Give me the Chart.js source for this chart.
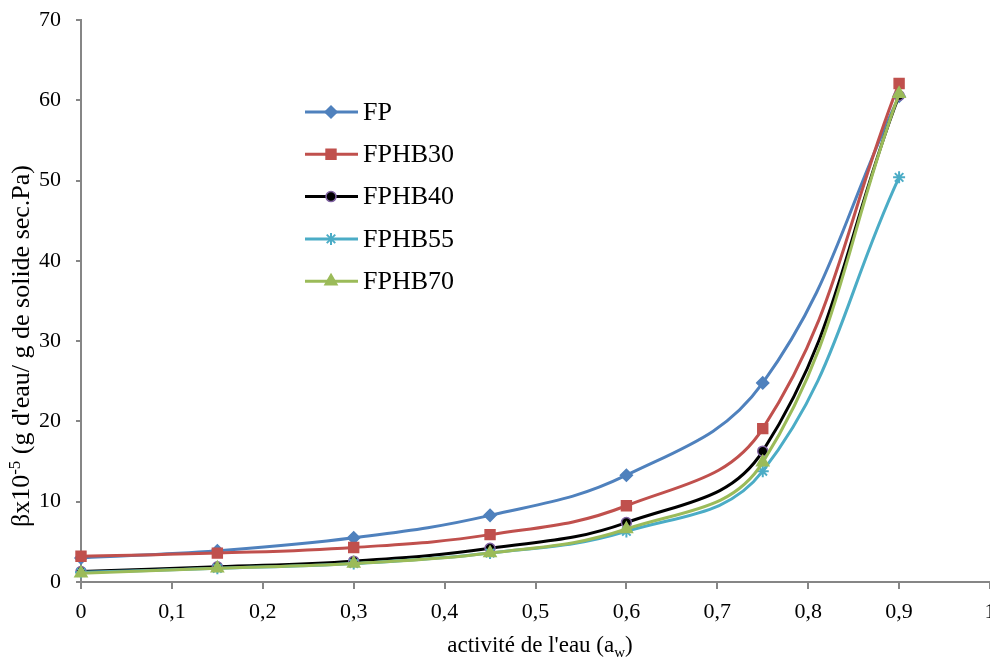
<!DOCTYPE html>
<html>
<head>
<meta charset="utf-8">
<script src="https://cdn.jsdelivr.net/npm/chart.js@4"></script>
<style>
    html, body { margin: 0; padding: 0; overflow: hidden; background: #fff; }
    #wrap { width: 990px; height: 659px; position: relative; }
</style>
</head>
<body>
<div id="wrap"><canvas id="c"></canvas></div>
<script>
// valeurs
const activite = [0, 0.15, 0.3, 0.45, 0.6, 0.75, 0.9];
const fp     = [3.0, 3.9, 5.5, 8.3, 13.3, 24.8, 60.5];
const fphb30 = [3.2, 3.6, 4.3, 5.9, 9.5, 19.1, 62.1];
const fphb40 = [1.3, 1.9, 2.6, 4.2, 7.4, 16.3, 60.6];
const fphb55 = [1.2, 1.7, 2.3, 3.6, 6.3, 13.8, 50.4];
const fphb70 = [1.1, 1.7, 2.3, 3.6, 6.6, 14.9, 60.8];
const seriesNames = ['FP', 'FPHB30', 'FPHB40', 'FPHB55', 'FPHB70'];

const FONT = '"Liberation Serif", "Times New Roman", serif';

function pts(arr) {
    return arr.map((v, i) => ({ x: activite[i], y: v }));
}

function makeSet(name, values, color, style, radius, fill, border, order) {
    return {
        label: name,
        data: pts(values),
        borderColor: color,
        borderWidth: 3,
        tension: 0.4,
        pointStyle: style,
        pointRadius: radius,
        pointBackgroundColor: fill,
        pointBorderColor: border,
        pointBorderWidth: style === 'star' ? 2 : 1.5,
        order: order,
        clip: false,
    };
}

const datasets = [
    makeSet(seriesNames[0], fp, '#4F81BD', 'rectRot', 6, '#4F81BD', '#4F81BD', 5),
    makeSet(seriesNames[1], fphb30, '#C0504D', 'rect', 7, '#C0504D', '#C0504D', 4),
    makeSet(seriesNames[2], fphb40, '#000000', 'circle', 5, '#000000', '#8064A2', 3),
    makeSet(seriesNames[3], fphb55, '#4BACC6', 'star', 6, '#4BACC6', '#4BACC6', 2),
    makeSet(seriesNames[4], fphb70, '#9BBB59', 'triangle', 7, '#9BBB59', '#9BBB59', 1),
];

// titres d'axes et légende dessinés à la main (indices, position dans la zone)
const extras = {
    id: 'extras',
    afterDraw(chart) {
        const ctx = chart.ctx;
        ctx.save();
        ctx.fillStyle = '#000';
        ctx.textBaseline = 'alphabetic';

        // titre axe x
        let big = '23px ' + FONT, small = '15px ' + FONT;
        ctx.font = big;
        const t1 = "activité de l'eau (a", t3 = ')';
        const w1 = ctx.measureText(t1).width, w3 = ctx.measureText(t3).width;
        ctx.font = small;
        const w2 = ctx.measureText('w').width;
        let x = 540 - (w1 + w2 + w3) / 2;
        const yb = 652;
        ctx.font = big; ctx.fillText(t1, x, yb); x += w1;
        ctx.font = small; ctx.fillText('w', x, yb + 5); x += w2;
        ctx.font = big; ctx.fillText(t3, x, yb);

        // titre axe y
        big = '26px ' + FONT; small = '17px ' + FONT;
        ctx.save();
        ctx.translate(29, 346);
        ctx.rotate(-Math.PI / 2);
        const a = 'βx10', b = '-5', c = " (g d'eau/ g de solide sec.Pa)";
        ctx.font = big;
        const wa = ctx.measureText(a).width, wc = ctx.measureText(c).width;
        ctx.font = small;
        const wb = ctx.measureText(b).width;
        let p = -(wa + wb + wc) / 2;
        ctx.font = big; ctx.fillText(a, p, 0); p += wa;
        ctx.font = small; ctx.fillText(b, p, -9); p += wb;
        ctx.font = big; ctx.fillText(c, p, 0);
        ctx.restore();

        // légende
        chart.data.datasets.forEach((ds, i) => {
            const ly = 112 + i * 42.3;
            ctx.strokeStyle = ds.borderColor;
            ctx.lineWidth = 3;
            ctx.beginPath();
            ctx.moveTo(305, ly);
            ctx.lineTo(358, ly);
            ctx.stroke();
            ctx.fillStyle = ds.pointBackgroundColor;
            ctx.strokeStyle = ds.pointBorderColor;
            ctx.lineWidth = ds.pointBorderWidth;
            Chart.helpers.drawPoint(ctx, {
                pointStyle: ds.pointStyle,
                radius: ds.pointRadius,
                rotation: 0,
                borderWidth: ds.pointBorderWidth,
            }, 331, ly);
            ctx.fillStyle = '#000';
            ctx.font = '26px ' + FONT;
            ctx.textBaseline = 'middle';
            ctx.fillText(ds.label, 363, ly + 1);
        });
        ctx.restore();
    }
};

function fmt(v) {
    if (v === 0) return '0';
    if (v === 1) return '1';
    return v.toFixed(1).replace('.', ',');
}

new Chart(document.getElementById('c'), {
    type: 'line',
    data: { datasets: datasets },
    options: {
        responsive: true,
        maintainAspectRatio: false,
        animation: false,
        layout: { autoPadding: false, padding: { top: 20, left: 0, right: 0, bottom: 0 } },
        plugins: {
            legend: { display: false },
            tooltip: { enabled: false },
        },
        scales: {
            x: {
                type: 'linear',
                min: 0,
                max: 1,
                afterFit(scale) {
                    scale.height = 77;
                    scale.paddingLeft = 0;
                    scale.paddingRight = 0;
                },
                border: { color: '#868686', width: 2 },
                grid: { drawOnChartArea: false, drawTicks: true, tickLength: 7, color: '#868686', lineWidth: 2 },
                ticks: {
                    stepSize: 0.1,
                    maxRotation: 0,
                    autoSkip: false,
                    color: '#000',
                    padding: 10,
                    font: { family: FONT, size: 22 },
                    callback: (v) => fmt(v),
                },
            },
            y: {
                min: 0,
                max: 70,
                afterFit(scale) {
                    scale.width = 81;
                    scale.paddingTop = 0;
                    scale.paddingBottom = 0;
                },
                border: { color: '#868686', width: 2 },
                grid: { drawOnChartArea: false, drawTicks: true, tickLength: 5, color: '#868686', lineWidth: 2 },
                ticks: {
                    stepSize: 10,
                    color: '#000',
                    padding: 15,
                    font: { family: FONT, size: 22 },
                },
            },
        },
    },
    plugins: [extras],
});
</script>
</body>
</html>
